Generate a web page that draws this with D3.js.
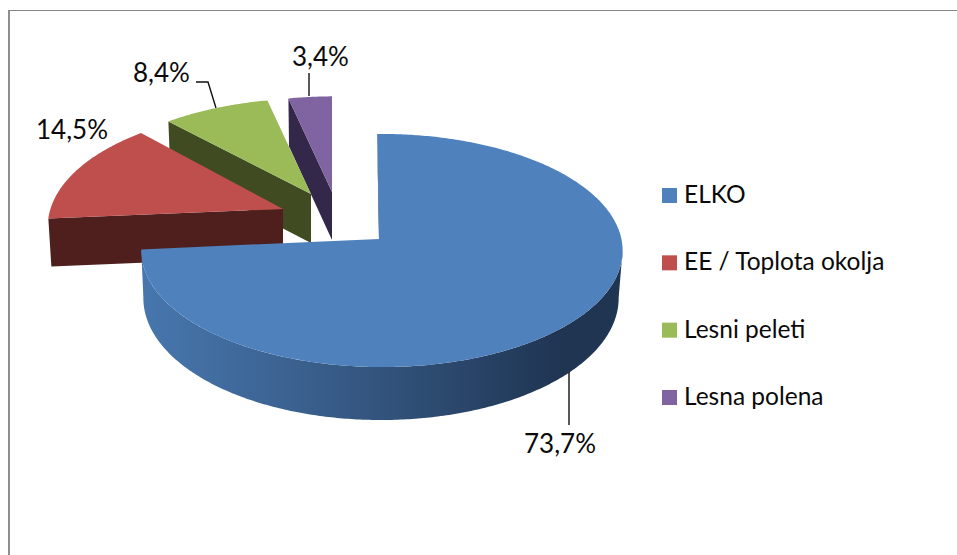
<!DOCTYPE html>
<html><head><meta charset="utf-8">
<script src="https://cdn.jsdelivr.net/npm/d3@7/dist/d3.min.js"></script>
<style>html,body{margin:0;padding:0;background:#fff;overflow:hidden}svg{display:block}text{font-family:Lato,"Open Sans",sans-serif;fill:#0a0a0a}</style>
</head><body><script>
const categories = ["ELKO", "EE / Toplota okolja", "Lesni peleti", "Lesna polena"];
const values = [73.7, 14.5, 8.4, 3.4];
const valueLabels = ["73,7%", "14,5%", "8,4%", "3,4%"];
const topColors = ["#4f81bd", "#be4f4c", "#9bbb59", "#8064a2"];
const wallColors = ["#1f3552", "#4f1f1e", "#404b22", "#33284a"];

// layout of the exploded perspective pie (one homography per wedge)
const wedgeLayout = [
  {ax:379, ay:239, lx:381, ly:286, b:239.5, a:115.4, lb:236.5, la:120.8, k:.0987, m:.012, lm:0, twist:-.5},
  {ax:283, ay:209, lx:283, ly:257, b:235, a:115, lb:232, la:115, k:.15, m:.0104, lm:.0104, twist:0},
  {ax:311, ay:194, lx:311, ly:243, b:236, a:110, lb:233, la:110, k:.15, m:.0104, lm:.0104, twist:0},
  {ax:332, ay:192, lx:332, ly:240, b:236, a:110, lb:233, la:110, k:.15, m:.0104, lm:.0104, twist:0}
];
const labelLayout = [
  {x:524, y:453, leader:[[569,372],[569,425]]},
  {x:36, y:139, leader:null},
  {x:133, y:82, leader:[[196,82],[208,82],[216,108]]},
  {x:292, y:66, leader:[[309,73],[309,96]]}
];
const legendY = d3.scalePoint().domain(categories).range([188, 390]);

const svg = d3.select("body").append("svg").attr("width",957).attr("height",555);
const defs = svg.append("defs");
const grad = defs.append("linearGradient").attr("id","blueWall").attr("gradientUnits","userSpaceOnUse")
  .attr("x1",145).attr("x2",560).attr("y1",0).attr("y2",0);
grad.append("stop").attr("offset",0).attr("stop-color","#4776ad");
grad.append("stop").attr("offset",.3).attr("stop-color","#3d6595");
grad.append("stop").attr("offset",.65).attr("stop-color","#2f4e75");
grad.append("stop").attr("offset",1).attr("stop-color","#1f3552");

// frame
svg.append("rect").attr("x",8).attr("y",10).attr("width",2).attr("height",545).attr("fill","#8f8f8f");
svg.append("rect").attr("x",8).attr("y",10).attr("width",949).attr("height",1).attr("fill","#868686");

const arcs = d3.pie().sort(null).value(d=>d)(values);
const line = d3.line();

function topPt(t,l){const X=Math.sin(t),Y=-Math.cos(t),den=1-l.k*Y-l.m*X;return [l.ax+l.b*X/den,l.ay+l.a*Y/den];}
function lowPt(t,l){const X=Math.sin(t),Y=-Math.cos(t),den=1-l.k*Y-l.lm*X;return [l.lx+l.lb*X/den,l.ly+l.la*Y/den];}
function sweep(a,b){const n=Math.max(2,Math.ceil(Math.abs(b-a)*90));return d3.range(n+1).map(i=>a+(b-a)*i/n);}

const order = [3,2,1,0];
order.forEach(i=>{
  const s=arcs[i], l=wedgeLayout[i], tw=l.twist*Math.PI/180;
  const t0=s.startAngle+tw, t1=s.endAngle+tw;
  const g=svg.append("g");
  if(i===0){
    // inner radial wall at the start of the wedge
    g.append("path").attr("fill",wallColors[0])
      .attr("d",line([topPt(t0,l),[l.ax,l.ay],[l.lx,l.ly],lowPt(t0,l).map((v,j)=>j?v:v-1)])+"Z");
    // outer curved wall, from each rim's right-most point to the wedge's end
    const all=sweep(.5,t1);
    const tsTop=all[d3.greatestIndex(all,t=>topPt(t,l)[0])];
    const tsLow=all[d3.greatestIndex(all,t=>lowPt(t,l)[0])];
    g.append("path").attr("fill","url(#blueWall)")
      .attr("d",line(sweep(tsTop,t1).map(t=>topPt(t,l)).concat(sweep(t1,tsLow).map(t=>lowPt(t,l))))+"Z");
  } else {
    // radial wall facing the viewer
    g.append("path").attr("fill",wallColors[i])
      .attr("d",line([topPt(t0,l),[l.ax,l.ay],[l.lx,l.ly],lowPt(t0,l)])+"Z");
  }
  g.append("path").attr("fill",topColors[i])
    .attr("d",line([[l.ax,l.ay]].concat(sweep(t0,t1).map(t=>topPt(t,l))))+"Z");
});

// leaders and labels
labelLayout.forEach((p,i)=>{
  if(p.leader) svg.append("path").attr("fill","none").attr("stroke","#111").attr("stroke-width",1.4).attr("d",line(p.leader));
  svg.append("text").attr("x",p.x).attr("y",p.y).attr("font-size",26).text(valueLabels[i]);
});

// legend
const lg=svg.selectAll("g.leg").data(categories).join("g").attr("class","leg");
lg.append("rect").attr("x",662).attr("y",d=>legendY(d)).attr("width",15).attr("height",15).attr("fill",(d,i)=>topColors[i]);
lg.append("text").attr("x",684).attr("y",d=>legendY(d)+15).attr("font-size",24.5).text(d=>d);
</script></body></html>
